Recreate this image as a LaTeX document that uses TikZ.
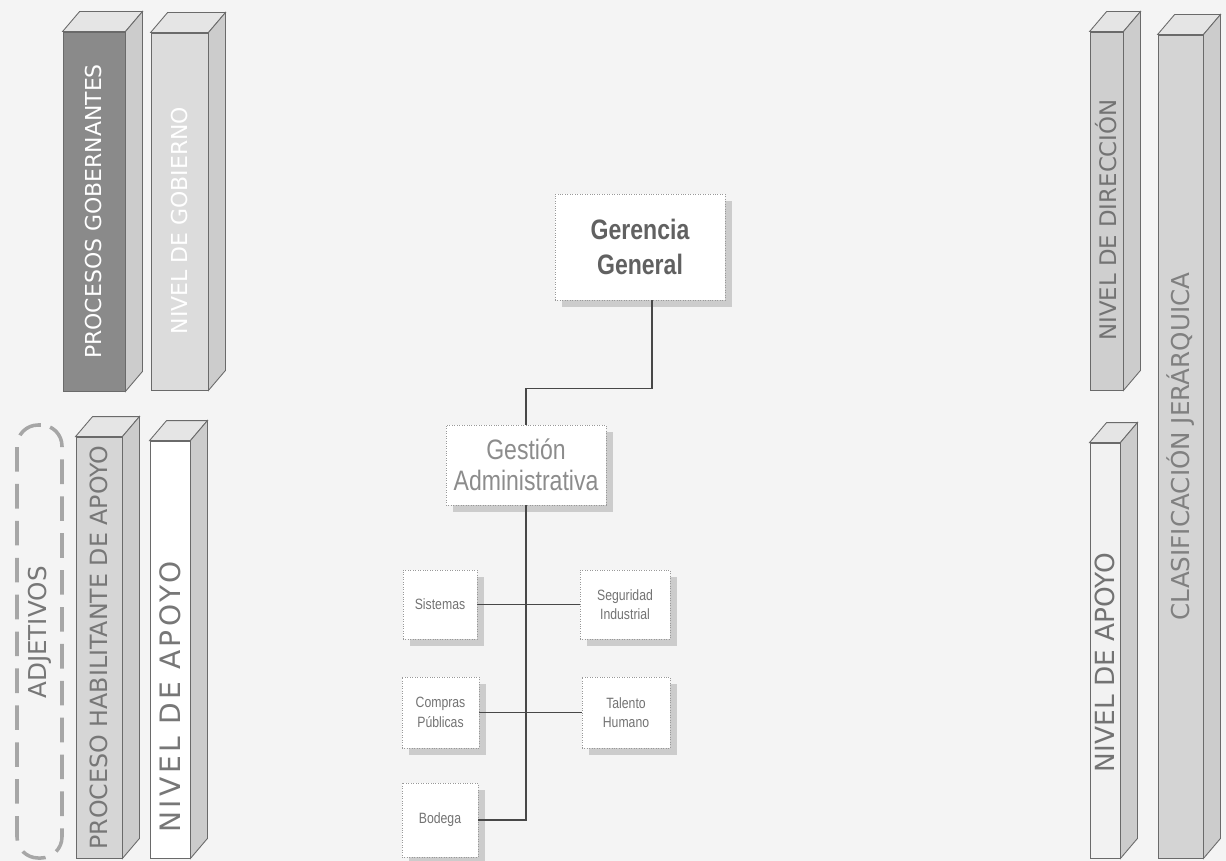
\documentclass[tikz,border=0pt]{standalone}
\usepackage{graphicx}
\usepackage{fontspec}
\setmainfont{Liberation Sans}
\newfontfamily\barfont{DejaVu Sans}
\newfontfamily\orgfont[FakeStretch=0.82]{Liberation Sans}
\usetikzlibrary{calc,shadows}

\newdimen\px \px=0.02cm

\definecolor{fondo}{HTML}{F4F4F4}
\definecolor{borde}{HTML}{6A6A6A}
\definecolor{oscuro}{HTML}{8A8A8A}
\definecolor{claro}{HTML}{D6D6D6}
\definecolor{medio}{HTML}{CFCFCF}
\definecolor{letra}{HTML}{777777}

\tikzset{caja/.style 2 args = {minimum width=#1\px, minimum height=#2\px},
         barra/.style = {draw=borde, line width=0.5pt, inner sep=0pt, fill=#1,
                         font=\barfont\fontsize{12.5}{14}\selectfont},
         barra/.default = white,
         tapa/.style = {draw=borde, line width=0.5pt, fill=black!10},
         lado/.style = {draw=borde, line width=0.5pt, fill=black!20},
         llave/.style = {draw=black!35, line width=2pt, dash pattern=on 14pt off 7pt,
                         rounded corners=12pt, inner sep=0pt, text=letra,
                         font=\barfont\fontsize{14}{16}\selectfont},
         cargo/.style = {draw=black!40, densely dotted, fill=white, inner sep=0pt,
                         align=center, text=black!55,
                         drop shadow={shadow xshift=1.4mm, shadow yshift=-1.4mm,
                                      fill=black!35, opacity=.5},
                         font=\orgfont\fontsize{8.5}{11}\selectfont},
         linea/.style = {draw=black!72, line width=0.7pt}
        }

\begin{document}
\begin{tikzpicture}[x=0.02cm, y=-0.02cm]
  \useasboundingbox (0,0) rectangle (1226,861);
  \fill[fondo] (0,0) rectangle (1226,861);

  % barras izquierda
  \node[barra=oscuro, caja={62}{359}, text=white] (gob) at (94,211.5)
       {\rotatebox{90}{PROCESOS GOBERNANTES}};
  \node[barra=claro!85, caja={57}{357}, text=white] (ngo) at (179.5,211.5)
       {\rotatebox{90}{NIVEL DE GOBIERNO\hspace*{18\px}}};
  \node[barra=claro, caja={46}{421}, text=letra,
        font=\barfont\fontsize{13.5}{15}\selectfont] (hab) at (99,647.5)
       {\rotatebox{90}{PROCESO HABILITANTE DE APOYO}};
  \node[barra=white, caja={40}{417}, text=letra,
        font=\barfont\fontsize{16}{18}\selectfont\addfontfeature{LetterSpace=12}] (apo) at (170,649.5)
       {\rotatebox{90}{NIVEL DE APOYO\hspace*{95\px}}};
  \node[llave, caja={45}{433}] (adj) at (39.5,641.5)
       {\rotatebox{90}{\hspace*{18\px}ADJETIVOS}};

  % barras derecha
  \node[barra=medio, caja={33}{358}, text=black!55,
        font=\barfont\fontsize{13}{15}\selectfont] (dir) at (1106.5,211)
       {\rotatebox{90}{NIVEL DE DIRECCIÓN\hspace*{18\px}}};
  \node[barra=medio!90, caja={45}{823}, text=black!50,
        font=\barfont\fontsize{14}{16}\selectfont] (cla) at (1180.5,446.5)
       {\rotatebox{90}{CLASIFICACIÓN JERÁRQUICA}};
  \node[barra=black!5, caja={30}{415}, text=black!55,
        font=\barfont\fontsize{15}{17}\selectfont] (apd) at (1105,650.5)
       {\rotatebox{90}{NIVEL DE APOYO\hspace*{24\px}}};

  \foreach \n in {gob,ngo,hab,apo,dir,cla,apd}{
    \filldraw[tapa] (\n.north west) -- ++(17,-20) -- ($(\n.north east)+(17,-20)$)
                    -- (\n.north east) -- cycle;
    \filldraw[lado] (\n.north east) -- ++(17,-20) -- ($(\n.south east)+(17,-20)$)
                    -- (\n.south east) -- cycle;
  }

  % organigrama
  \node[cargo, caja={170}{106}, text=black!62,
        font=\orgfont\bfseries\fontsize{16}{20}\selectfont] (ger) at (640,247) {Gerencia\\General};
  \node[cargo, caja={160}{80}, text=black!45,
        font=\orgfont\fontsize{16}{17.5}\selectfont] (ges) at (526,465) {Gestión\\Administrativa};
  \node[cargo, caja={74}{69}] (sis) at (440,604.5) {Sistemas};
  \node[cargo, caja={90}{69}] (seg) at (625,604.5) {Seguridad\\Industrial};
  \node[cargo, caja={77}{71}] (com) at (440.5,712.5) {Compras\\Públicas};
  \node[cargo, caja={88}{71}] (tal) at (626,712.5) {Talento\\Humano};
  \node[cargo, caja={76}{74}] (bod) at (440,820) {Bodega};

  \draw[linea] ([xshift=12\px]ger.south) |- ($(ges.north)+(0,-36)$) -- (ges.north);
  \draw[linea] (ges.south) -- (ges.south |- bod.east) -- (bod.east);
  \draw[linea] (sis.east) -- (seg.west);
  \draw[linea] (com.east) -- (com.east -| tal.west);
\end{tikzpicture}
\end{document}
